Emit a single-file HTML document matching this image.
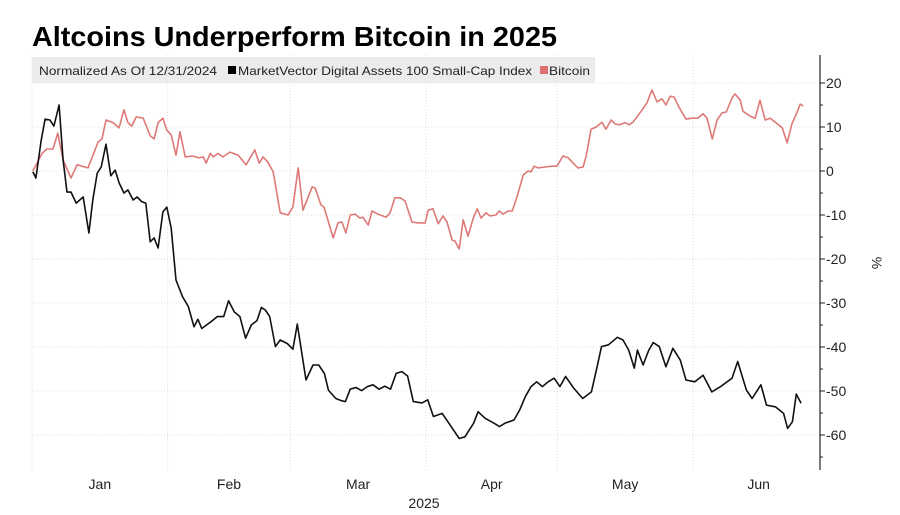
<!DOCTYPE html>
<html><head><meta charset="utf-8"><style>
body{margin:0;background:#fff;width:900px;height:510px;overflow:hidden;font-family:"Liberation Sans",sans-serif}
</style></head><body>
<svg width="900" height="510" xmlns="http://www.w3.org/2000/svg">
<text x="32" y="46" font-size="28" font-weight="bold" fill="#000" textLength="525" lengthAdjust="spacingAndGlyphs">Altcoins Underperform Bitcoin in 2025</text>
<g id="grid"></g>
<rect x="32" y="57" width="563" height="26" fill="#ececec"/>
<text x="39" y="75" font-size="12" fill="#222" textLength="178" lengthAdjust="spacingAndGlyphs">Normalized As Of 12/31/2024</text>
<rect x="228" y="66" width="8" height="8" fill="#000"/>
<text x="238" y="75" font-size="12" fill="#222" textLength="294" lengthAdjust="spacingAndGlyphs">MarketVector Digital Assets 100 Small-Cap Index</text>
<rect x="540" y="66" width="8" height="8" fill="#e07070"/>
<text x="549" y="75" font-size="12" fill="#222" textLength="41" lengthAdjust="spacingAndGlyphs">Bitcoin</text>
<g id="axis"></g>
<g id="series"></g>
<text x="424" y="508" font-size="14" fill="#222" text-anchor="middle">2025</text>
<text transform="translate(872,263) rotate(90)" font-size="14" fill="#222" text-anchor="middle">%</text>
</svg>
<script>
const months=["Jan","Feb","Mar","Apr","May","Jun"];
const monthStart=[0,31,59,90,120,151];
const yTicks=[20,10,0,-10,-20,-30,-40,-50,-60];
const btcDays=[0.2,2.3,3.4,4.8,5.9,7.1,8.9,10.3,12.8,15.1,16,16.9,18.5,19.9,21,21.9,22.8,23.8,25.4,27,27.9,28.8,29.9,30.8,31.8,32.9,33.8,35,36.6,38.2,39.1,39.8,40.7,41.4,42.5,43.6,45.2,47.1,48.9,50.9,51.9,52.8,53.9,55.1,56.7,58.5,59.6,60.8,61.9,64,64.7,66,66.7,68.8,69.9,70.8,71.7,72.7,73.8,74.9,75.6,76.8,77.7,79,80.9,81.8,82.9,84.1,85.2,86.8,88.2,89.8,90.5,91.6,92.8,93.9,94.8,96,96.6,97.6,98.5,99.6,100.8,101.7,102.6,103.7,104.6,106,106.7,107.6,108.8,109.7,110.8,112.2,113.3,114,114.7,115.6,117.2,118.8,119.9,121.3,122.5,123.6,124.7,125.9,126.6,127.7,128.9,130.2,131.1,132.3,133.2,134.3,135.5,136.4,137.3,139.4,140.5,141.6,142.8,143.9,144.8,145.8,146.7,147.8,149.4,150.8,152.1,153.3,154.2,155.4,156.5,157.6,158.6,159.9,160.6,161.8,162.4,164,165.2,166.3,167.5,168.6,169.8,171.4,172.5,173.6,174.8,175.5,176.2];
const btcVals=[0,4,5,5,8.6,2.5,-1.6,1.4,0.7,6.6,7.3,11.6,11,9.8,13.9,11,10.2,12.3,12,8,7.3,11,12,9.3,8.2,3.6,8.9,3.2,3.4,3,3.2,1.8,4,3.2,4,3.2,4.3,3.6,1.4,4.8,1.8,3.2,2,-0.2,-9.5,-10,-8.2,0.7,-8.9,-3.6,-3.9,-7.7,-8.2,-15.2,-11.8,-11.6,-14.1,-10,-9.8,-10.7,-10.5,-12.3,-9.1,-9.8,-10.5,-9.5,-6.1,-6.1,-6.8,-11.6,-11.8,-11.8,-8.9,-8.6,-12,-10.2,-11.6,-15.7,-15.9,-17.7,-11.1,-14.8,-10.7,-8.6,-10.7,-9.5,-10.2,-10,-9.1,-9.8,-9.1,-9.1,-5.9,-0.9,0,-0.2,1.1,0.7,0.9,1.1,1.1,3.4,3,1.8,0.7,0.9,3.4,9.5,10,11.1,9.5,11.6,10.7,10.5,11,10.5,11.1,13.9,15.5,18.4,15.7,16.4,15,17,16.8,14.5,11.8,12,12,13,12,7.3,11.6,13.2,13.4,16.6,17.5,16.1,13.6,12.5,12,16.1,11.6,12,11.1,9.8,6.4,10.7,13.4,15.2,14.8];
const idxDays=[0.2,0.9,2.1,3,4.1,5,6.2,7.1,8,8.9,10.1,11.7,13,13.9,14.9,15.8,16.9,18,19,19.9,21,21.9,23.1,24,25.1,26,27,27.9,28.8,29.9,30.8,31.8,32.9,34.4,35.7,37,37.9,38.8,41.2,42.3,43.8,44.9,46.2,47.5,48.8,50.1,51.4,52.4,53.3,54.3,55.6,56.7,58.3,59.6,60.6,62.6,64.2,65.5,66.8,67.7,69.4,70.7,71.6,72.7,74,75.3,76.6,77.9,79.3,80.6,81.9,83.2,84.5,85.8,87.1,89.1,90.4,91.7,93.7,96.3,97.6,98.9,100.9,101.9,103.5,105.5,106.8,108.1,110.1,111.4,112.7,114,115.3,116.6,117.9,119.3,120.6,121.9,123.8,125.8,127.8,129.1,130.1,131.7,133.7,135,136.3,137.6,138.3,139.6,140.9,141.9,143.3,144.8,146.4,148.1,149.4,151.4,153.3,155.3,157.3,159.9,161.2,163.2,164.5,166.5,167.8,169.8,171.7,172.6,173.7,174.6,175.7];
const idxVals=[-0.2,-1.6,7,11.8,11.6,10.2,15,2.5,-4.8,-4.8,-7.3,-5.9,-14.1,-6.6,-0.5,0.9,6.1,-1.1,0.2,-2.7,-5,-4.3,-6.6,-5.9,-7,-7.3,-16.1,-15.2,-17.5,-9.3,-8.2,-13,-24.8,-28.6,-30.8,-35.4,-33.7,-35.8,-34,-33.1,-33.1,-29.5,-32,-33.1,-38,-35,-34,-31,-31.6,-33.1,-39.9,-38.4,-39.2,-40.5,-34.8,-47.5,-44.1,-44.1,-46,-49.8,-51.7,-52.2,-52.4,-49.6,-49.2,-49.9,-49,-48.6,-49.6,-48.9,-49.6,-46,-45.6,-46.6,-52.4,-52.7,-52,-55.8,-55.1,-58.9,-60.8,-60.4,-57.3,-54.7,-56.2,-57.3,-58.1,-57.3,-56.6,-54.3,-51.3,-49,-47.9,-49,-47.9,-47.1,-49,-46.7,-49.4,-51.7,-50.2,-44.5,-39.9,-39.5,-37.8,-38.4,-40.7,-44.8,-40.7,-44.1,-40.7,-39,-39.9,-44.5,-40.3,-43,-47.5,-47.9,-46.4,-50.2,-49,-47.1,-43.3,-49.8,-51.7,-48.6,-53.2,-53.6,-55.1,-58.5,-57,-50.7,-52.8];

const NS="http://www.w3.org/2000/svg";
const X0=32,PXD=(693-32)/151,Y0=171,PXV=4.4,TOP=55,BOT=470,AX=820;
const xs=d=>X0+d*PXD, ys=v=>Y0-v*PXV;
function mk(tag,attrs,parent){const e=document.createElementNS(NS,tag);for(const k in attrs)e.setAttribute(k,attrs[k]);parent.appendChild(e);return e;}
const grid=document.getElementById('grid'),axis=document.getElementById('axis'),series=document.getElementById('series');
monthStart.forEach((d,i)=>{
  const l=mk('line',{x1:xs(d),x2:xs(d),y1:TOP,y2:BOT,stroke:'#dcdcdc','stroke-dasharray':'1,2'},grid);
  
  
  const nd=i<5?monthStart[i+1]:181;
  const t=mk('text',{x:xs((d+nd)/2),y:489,'font-size':14,fill:'#222','text-anchor':'middle'},axis);
  t.textContent=months[i];
  
  
});
yTicks.forEach(v=>{
  const l=mk('line',{x1:X0,x2:AX,y1:ys(v),y2:ys(v),stroke:'#dcdcdc','stroke-dasharray':'1,2'},grid);
  
  
  const tk=mk('line',{x1:AX,x2:AX+5,y1:ys(v),y2:ys(v),stroke:'#222'},axis);
  
  
  const mt=mk('line',{x1:AX,x2:AX+3,y1:ys(v-5),y2:ys(v-5),stroke:'#222'},axis);
  
  
  const t=mk('text',{x:AX+6,y:ys(v)+5,'font-size':14,fill:'#222'},axis);
  t.textContent=(v<0?'-':'')+Math.abs(v);
  
  
});
const ax=mk('line',{x1:AX,x2:AX,y1:TOP,y2:BOT,stroke:'#222','stroke-width':1.2},axis);


function path(days,vals,color,name){
  const d=days.map((dd,i)=>(i?'L':'M')+xs(dd).toFixed(1)+','+ys(vals[i]).toFixed(1)).join('');
  const p=mk('path',{d:d,fill:'none',stroke:color,'stroke-width':1.6,'stroke-linejoin':'round'},series);
  
  
}
path(btcDays,btcVals,'#dd7a78','bitcoin-line');
path(idxDays,idxVals,'#111','small-cap-index-line');
</script>
</body></html>
